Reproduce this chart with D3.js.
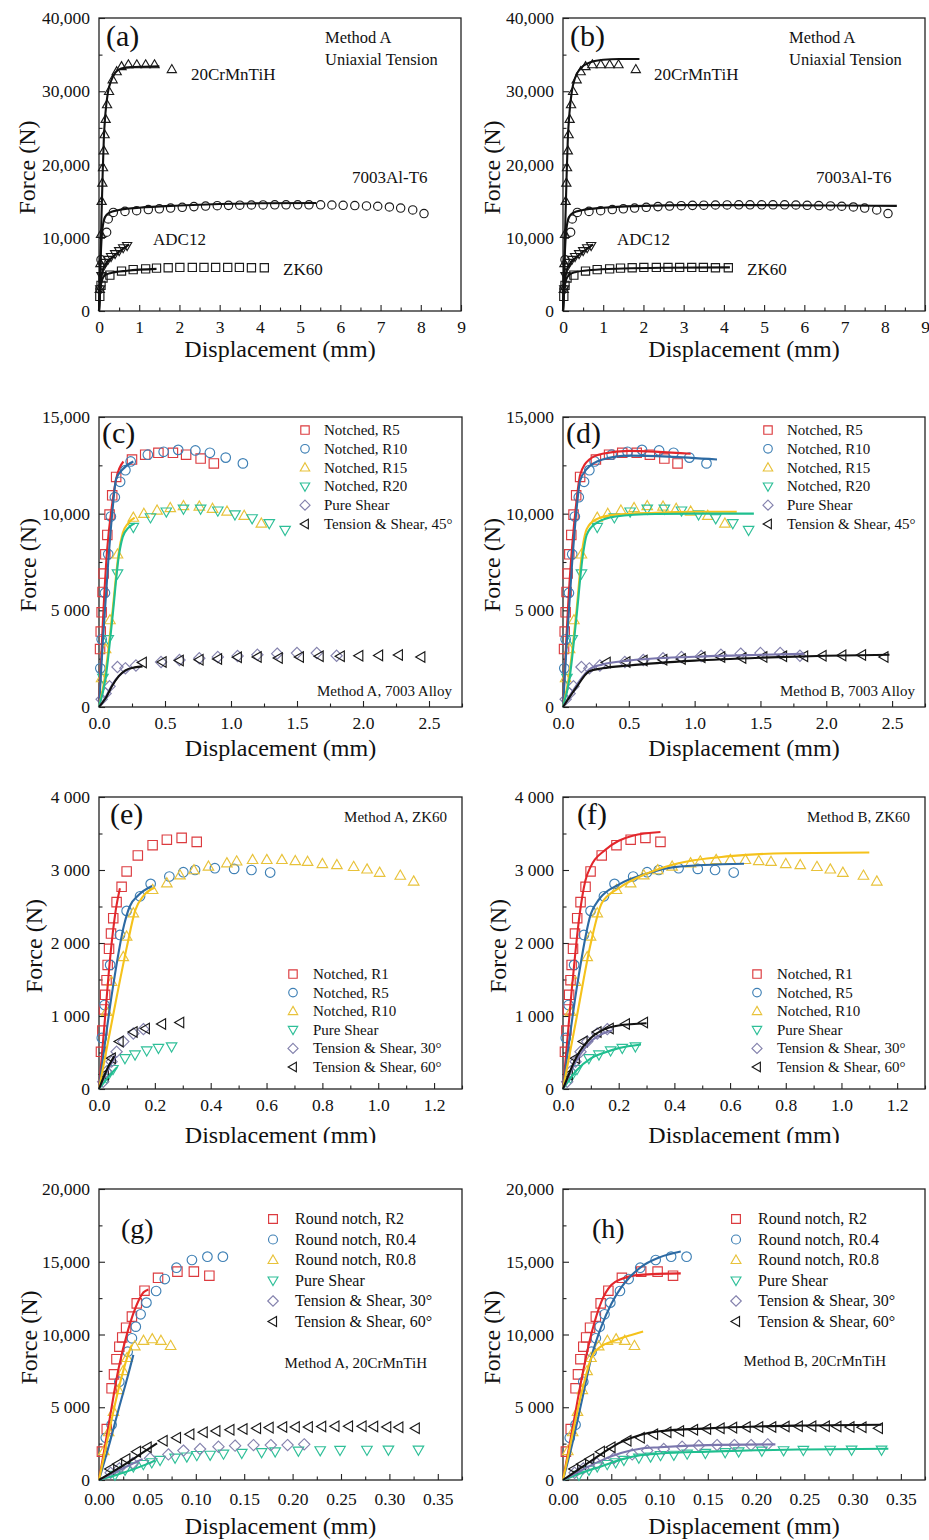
<!DOCTYPE html>
<html>
<head>
<meta charset="utf-8">
<script src="https://cdn.jsdelivr.net/npm/d3@7"></script>
<style>
  body { margin: 0; background: #fff; }
  svg { display: block; }
</style>
</head>
<body>
<svg id="fig" width="929" height="1540"></svg>
<script>
/* ---------- data: [displacement (mm), force (N)] ---------- */

// (a)/(b) uniaxial tension, test points
var ptsCrMnTi = [[0.02,3000],[0.035,6500],[0.05,10500],[0.066,15000],[0.083,17500],[0.1,19600],[0.12,21900],[0.14,24100],[0.165,26200],[0.2,28200],[0.25,30000],[0.34,31600],[0.44,32700],[0.56,33400],[0.73,33650],[0.94,33650],[1.16,33650],[1.38,33650],[1.81,33000]];
var ptsAl7003 = [[0.02,3000],[0.05,7000],[0.19,10750],[0.23,12560],[0.356,13450],[0.646,13600],[0.936,13700],[1.226,13850],[1.5,13950],[1.78,14050],[2.07,14150],[2.36,14250],[2.65,14330],[2.94,14380],[3.22,14420],[3.5,14450],[3.79,14470],[4.08,14480],[4.37,14490],[4.65,14490],[4.94,14490],[5.22,14490],[5.51,14500],[5.79,14470],[6.07,14430],[6.36,14400],[6.65,14350],[6.93,14300],[7.22,14200],[7.5,14050],[7.8,13800],[8.08,13300]];
var ptsADC12 = [[0.03,3000],[0.06,4800],[0.1,6000],[0.15,6600],[0.22,7000],[0.3,7400],[0.4,7800],[0.5,8200],[0.6,8600],[0.7,8900]];
var ptsZK60 = [[0.02,2000],[0.05,3500],[0.1,4500],[0.27,4900],[0.56,5450],[0.85,5650],[1.16,5750],[1.43,5850],[1.72,5900],[2.01,5950],[2.32,5950],[2.61,5950],[2.9,5950],[3.2,5950],[3.49,5950],[3.79,5900],[4.11,5900]];

var fitA_CrMnTi = [[0,0],[0.03,6000],[0.06,12500],[0.09,18500],[0.12,23500],[0.16,27000],[0.22,29800],[0.3,31400],[0.4,32500],[0.55,33100],[0.8,33300],[1.1,33350],[1.5,33400]];
var fitA_Al7003 = [[0,0],[0.03,5500],[0.06,9500],[0.1,11800],[0.15,12800],[0.25,13400],[0.5,13800],[1,14100],[2,14400],[3,14600],[4,14700],[5.4,14750]];
var fitA_ADC12 = [[0,0],[0.04,3500],[0.08,5300],[0.15,6300],[0.3,7200],[0.5,8100],[0.75,9100]];
var fitA_ZK60 = [[0,0],[0.03,2800],[0.08,4300],[0.15,4900],[0.3,5200],[0.7,5500],[1.43,5750]];

var fitB_CrMnTi = [[0,0],[0.03,6000],[0.06,12500],[0.09,18500],[0.12,23500],[0.16,27000],[0.22,30000],[0.3,31800],[0.45,33200],[0.7,34000],[1.0,34300],[1.4,34400],[1.9,34400]];
var fitB_Al7003 = [[0,0],[0.03,5500],[0.06,9500],[0.1,11800],[0.15,12800],[0.25,13400],[0.5,13800],[1,14100],[2,14350],[3,14450],[5,14450],[7,14400],[8.3,14350]];
var fitB_ADC12 = [[0,0],[0.04,3500],[0.08,5300],[0.15,6300],[0.3,7200],[0.5,8100],[0.75,9100]];
var fitB_ZK60 = [[0,0],[0.03,2800],[0.08,4300],[0.15,4900],[0.3,5300],[0.7,5600],[1.5,5800],[2.5,5900],[4.15,5950]];

// (c)/(d) 7003 alloy
var ptsC_R5 = [[0.008,3000],[0.013,3900],[0.02,4900],[0.027,5950],[0.035,6900],[0.048,7900],[0.063,8900],[0.08,9950],[0.1,10950],[0.13,11900],[0.25,12800],[0.35,13050],[0.45,13150],[0.56,13150],[0.66,13050],[0.77,12850],[0.87,12600]];
var ptsC_R10 = [[0.01,2000],[0.02,3500],[0.045,5900],[0.07,7900],[0.09,9850],[0.12,10850],[0.16,11650],[0.2,12250],[0.24,12700],[0.37,13050],[0.49,13200],[0.6,13300],[0.73,13270],[0.84,13150],[0.96,12900],[1.09,12600]];
var ptsC_R15 = [[0.02,1500],[0.05,3000],[0.083,4500],[0.14,7900],[0.26,9800],[0.34,10000],[0.44,10170],[0.54,10300],[0.64,10400],[0.76,10380],[0.86,10260],[0.97,10120],[1.1,9900],[1.23,9500]];
var ptsC_R20 = [[0.03,1500],[0.07,3500],[0.14,6900],[0.26,9300],[0.39,9800],[0.51,10100],[0.64,10250],[0.77,10250],[0.9,10150],[1.03,9950],[1.16,9750],[1.29,9500],[1.41,9150]];
var ptsC_PS = [[0.02,400],[0.05,700],[0.08,1070],[0.14,2070],[0.2,2000],[0.28,2150],[0.47,2330],[0.61,2430],[0.76,2520],[0.9,2590],[1.05,2640],[1.2,2700],[1.35,2760],[1.5,2790],[1.65,2790],[1.8,2650]];
var ptsC_TS45 = [[0.33,2300],[0.48,2330],[0.61,2410],[0.76,2450],[0.9,2480],[1.05,2570],[1.2,2590],[1.36,2530],[1.52,2590],[1.67,2620],[1.83,2620],[1.97,2650],[2.12,2670],[2.27,2690],[2.44,2590]];

var fitC_R5 = [[0,0],[0.03,4500],[0.06,8000],[0.1,10500],[0.13,11800],[0.185,12700]];
var fitC_R10 = [[0,0],[0.03,3500],[0.07,7500],[0.1,10000],[0.13,11800],[0.18,12300],[0.26,12700]];
var fitC_R15 = [[0,0],[0.05,1800],[0.1,4800],[0.15,8000],[0.18,9000],[0.22,9500],[0.27,9800]];
var fitC_R20 = [[0,0],[0.05,1500],[0.1,4500],[0.15,7800],[0.18,8800],[0.22,9250],[0.27,9500]];
var fitC_PS = [[0,0],[0.05,500],[0.1,1150],[0.15,1600],[0.22,1950]];
var fitC_TS45 = [[0,0],[0.05,450],[0.1,1100],[0.15,1600],[0.2,1900],[0.27,2050],[0.33,2100]];

var fitD_R5 = [[0,0],[0.05,6500],[0.1,10500],[0.13,12000],[0.2,12800],[0.3,13100],[0.5,13250],[0.97,13100]];
var fitD_R10 = [[0,0],[0.03,3500],[0.07,7500],[0.1,10000],[0.13,11700],[0.18,12300],[0.3,12800],[0.5,13000],[0.8,12950],[1.17,12800]];
var fitD_R15 = [[0,0],[0.05,1800],[0.1,4800],[0.15,8300],[0.18,9200],[0.25,9700],[0.4,9950],[0.7,10050],[1.0,10100],[1.32,10100]];
var fitD_R20 = [[0,0],[0.05,1500],[0.1,4500],[0.15,7800],[0.18,8900],[0.25,9500],[0.4,9850],[0.7,9980],[1.0,10000],[1.45,10000]];
var fitD_PS = [[0,0],[0.1,1100],[0.2,1950],[0.3,2200],[0.5,2400],[1.0,2600],[1.5,2700],[1.83,2750]];
var fitD_TS45 = [[0,0],[0.1,1000],[0.2,1850],[0.3,2000],[0.5,2150],[1.0,2400],[1.5,2550],[2.0,2650],[2.48,2700]];

// (e)/(f) ZK60
var ptsE_R1 = [[0.007,510],[0.012,800],[0.018,1090],[0.022,1290],[0.027,1490],[0.031,1700],[0.036,1920],[0.043,2130],[0.051,2340],[0.063,2560],[0.081,2770],[0.099,2980],[0.139,3200],[0.192,3340],[0.243,3415],[0.296,3440],[0.35,3385]];
var ptsE_R5 = [[0.01,700],[0.02,1150],[0.04,1700],[0.075,2110],[0.099,2440],[0.147,2640],[0.185,2810],[0.252,2910],[0.302,2970],[0.344,3000],[0.415,3025],[0.484,3015],[0.546,3000],[0.613,2965]];
var ptsE_R10 = [[0.027,1060],[0.045,1470],[0.087,1810],[0.099,2090],[0.123,2410],[0.192,2730],[0.243,2820],[0.29,2930],[0.34,3000],[0.392,3050],[0.458,3095],[0.493,3120],[0.55,3140],[0.601,3140],[0.655,3140],[0.703,3125],[0.747,3115],[0.8,3085],[0.852,3070],[0.912,3045],[0.96,3010],[1.005,2965],[1.079,2925],[1.127,2845]];
var ptsE_PS = [[0.027,150],[0.05,270],[0.093,420],[0.129,470],[0.171,525],[0.213,560],[0.26,580]];
var ptsE_TS30 = [[0.015,100],[0.027,240],[0.045,375],[0.063,510],[0.087,650],[0.123,760],[0.159,820]];
var ptsE_TS60 = [[0.02,200],[0.045,420],[0.073,650],[0.123,780],[0.167,830],[0.225,890],[0.29,910]];

var fitE_R1 = [[0,0],[0.02,900],[0.04,1800],[0.06,2450],[0.075,2750]];
var fitE_R5 = [[0,0],[0.05,1400],[0.09,2250],[0.11,2500],[0.14,2650],[0.19,2780]];
var fitE_R10 = [[0,0],[0.05,1000],[0.1,1950],[0.13,2450],[0.16,2650],[0.2,2760]];
var fitE_PS = [[0,0],[0.03,150],[0.065,300]];
var fitE_TS30 = [[0,0],[0.03,250],[0.06,450]];
var fitE_TS60 = [[0,0],[0.03,280],[0.055,450]];

var fitF_R1 = [[0,0],[0.03,1300],[0.06,2400],[0.08,2850],[0.1,3050],[0.15,3270],[0.2,3400],[0.25,3470],[0.35,3520]];
var fitF_R5 = [[0,0],[0.05,1400],[0.1,2400],[0.13,2600],[0.2,2800],[0.3,2950],[0.4,3040],[0.65,3085]];
var fitF_R10 = [[0,0],[0.05,1000],[0.1,2000],[0.14,2550],[0.2,2750],[0.3,2950],[0.4,3080],[0.6,3190],[0.8,3230],[1.1,3240]];
var fitF_PS = [[0,0],[0.05,260],[0.1,420],[0.15,500],[0.2,560],[0.28,610]];
var fitF_TS30 = [[0,0],[0.05,400],[0.1,650],[0.15,770],[0.175,800]];
var fitF_TS60 = [[0,0],[0.05,450],[0.1,700],[0.15,820],[0.2,870],[0.3,900]];

// (g)/(h) 20CrMnTiH
var ptsG_R2 = [[0.003,1950],[0.008,3500],[0.013,6300],[0.0155,7260],[0.018,8300],[0.021,9160],[0.024,9800],[0.028,10470],[0.034,11230],[0.039,12140],[0.047,13010],[0.061,13900],[0.081,14320],[0.098,14320],[0.114,14040]];
var ptsG_R04 = [[0.007,2900],[0.013,3800],[0.021,6750],[0.0296,8820],[0.034,9740],[0.038,10540],[0.043,11390],[0.049,12190],[0.059,12990],[0.068,13810],[0.08,14590],[0.096,15120],[0.112,15350],[0.128,15350]];
var ptsG_R08 = [[0.005,2000],[0.01,3300],[0.015,4700],[0.02,6200],[0.025,7500],[0.029,8400],[0.037,9200],[0.046,9580],[0.055,9690],[0.064,9580],[0.074,9230]];
var ptsG_PS = [[0.0165,340],[0.0269,690],[0.0355,920],[0.0458,1080],[0.0545,1200],[0.0631,1370],[0.0786,1520],[0.0907,1600],[0.101,1700],[0.1148,1720],[0.1286,1800],[0.1475,1850],[0.168,1900],[0.182,1950],[0.206,2000],[0.2285,2030],[0.249,2050],[0.2768,2060],[0.299,2070],[0.33,2070]];
var ptsG_TS30 = [[0.012,500],[0.021,800],[0.035,1150],[0.0527,1490],[0.0717,1760],[0.0872,2020],[0.1044,2130],[0.1234,2290],[0.1406,2360],[0.1596,2400],[0.1775,2400],[0.1948,2400],[0.212,2450]];
var ptsG_TS60 = [[0.0113,750],[0.0195,1100],[0.028,1450],[0.039,1950],[0.05,2250],[0.0665,2700],[0.0803,2910],[0.0941,3140],[0.1079,3280],[0.121,3370],[0.1355,3460],[0.149,3500],[0.163,3550],[0.176,3600],[0.19,3640],[0.203,3640],[0.2165,3640],[0.2303,3670],[0.244,3690],[0.258,3690],[0.272,3690],[0.284,3670],[0.2975,3640],[0.31,3620],[0.327,3550]];

var fitG_R2 = [[0,0],[0.01,3800],[0.02,7600],[0.03,10300],[0.04,12200],[0.046,12900],[0.051,13100]];
var fitG_R04 = [[0,0],[0.01,2300],[0.02,4800],[0.03,7200],[0.0355,8600]];
var fitG_R08 = [[0,0],[0.01,3200],[0.02,6200],[0.03,8600],[0.034,9300]];
var fitG_PS = [[0,0],[0.02,400],[0.04,850],[0.058,1330]];
var fitG_TS30 = [[0,0],[0.02,650],[0.045,1450]];
var fitG_TS60 = [[0,0],[0.02,800],[0.04,1650],[0.06,2520]];

var fitH_R2 = [[0,0],[0.01,3600],[0.02,7200],[0.03,10200],[0.04,12300],[0.05,13400],[0.06,13800],[0.08,14100],[0.122,14200]];
var fitH_R04 = [[0,0],[0.01,2600],[0.02,5600],[0.03,8600],[0.04,10600],[0.05,12100],[0.06,13200],[0.07,14000],[0.08,14600],[0.1,15300],[0.122,15700]];
var fitH_R08 = [[0,0],[0.01,3200],[0.02,6200],[0.03,8500],[0.04,9200],[0.05,9500],[0.06,9750],[0.07,9950],[0.083,10200]];
var fitH_PS = [[0,0],[0.02,500],[0.04,950],[0.06,1400],[0.08,1700],[0.1,1820],[0.15,1950],[0.2,2040],[0.25,2100],[0.337,2150]];
var fitH_TS30 = [[0,0],[0.02,700],[0.04,1350],[0.06,1850],[0.08,2150],[0.1,2250],[0.15,2400],[0.22,2450]];
var fitH_TS60 = [[0,0],[0.02,900],[0.04,1800],[0.06,2600],[0.08,3100],[0.1,3350],[0.15,3550],[0.2,3680],[0.25,3750],[0.33,3800]];

// tick values
var xTicksA = [0,1,2,3,4,5,6,7,8,9];
var yTicksA = [0,10000,20000,30000,40000];
var xTicksC = [0,0.5,1,1.5,2,2.5];
var yTicksC = [0,5000,10000,15000];
var xTicksE = [0,0.2,0.4,0.6,0.8,1.0,1.2];
var yTicksE = [0,1000,2000,3000,4000];
var xTicksG = [0,0.05,0.1,0.15,0.2,0.25,0.3,0.35];
var yTicksG = [0,5000,10000,15000,20000];

// legend labels
var legend7003 = ["Notched, R5","Notched, R10","Notched, R15","Notched, R20","Pure Shear","Tension & Shear, 45°"];
var legendZK60 = ["Notched, R1","Notched, R5","Notched, R10","Pure Shear","Tension & Shear, 30°","Tension & Shear, 60°"];
var legendCrMnTi = ["Round notch, R2","Round notch, R0.4","Round notch, R0.8","Pure Shear","Tension & Shear, 30°","Tension & Shear, 60°"];

/* ---------- styling ---------- */
var FONT = '"Liberation Serif", "Times New Roman", serif';
var RED = {line:'#e3262b', mk:'#dc3b3f'};
var BLUE = {line:'#2d6aa3', mk:'#3f80b5'};
var YEL = {line:'#f5c21b', mk:'#e8c23a'};
var GRN = {line:'#1fbf8f', mk:'#2ebf98'};
var LAV = {line:'#7a76ad', mk:'#8482ad'};
var BLK = {line:'#111', mk:'#1a1a1a'};
var SYMS = ['square','circle','up','down','diamond','left'];
var COLS = [RED, BLUE, YEL, GRN, LAV, BLK];

var svg = d3.select('#fig');

function sym(type, k) {
  switch (type) {
    case 'square': return 'M'+(-k)+','+(-k)+'H'+k+'V'+k+'H'+(-k)+'Z';
    case 'circle': var r = k*1.02; return 'M'+r+',0A'+r+','+r+' 0 1,1 '+(-r)+',0A'+r+','+r+' 0 1,1 '+r+',0Z';
    case 'up': return 'M0,'+(-1.15*k)+'L'+(1.12*k)+','+(0.8*k)+'L'+(-1.12*k)+','+(0.8*k)+'Z';
    case 'down': return 'M0,'+(1.15*k)+'L'+(1.12*k)+','+(-0.8*k)+'L'+(-1.12*k)+','+(-0.8*k)+'Z';
    case 'diamond': return 'M0,'+(-1.2*k)+'L'+(1.2*k)+',0L0,'+(1.2*k)+'L'+(-1.2*k)+',0Z';
    case 'left': return 'M'+(-1.15*k)+',0L'+(0.8*k)+','+(-1.12*k)+'L'+(0.8*k)+','+(1.12*k)+'Z';
  }
}

function yFmt(v) {
  if (v === 0) return '0';
  var s = d3.format(',')(v);
  return v < 10000 ? s.replace(',', ' ') : s;
}

function txt(t, x, y, size, anchor) {
  svg.append('text').attr('x', x).attr('y', y)
    .attr('font-family', FONT).attr('font-size', size)
    .attr('text-anchor', anchor || 'start').attr('fill', '#111')
    .text(t);
}

function drawPanel(p) {
  var x = d3.scaleLinear().domain([0, p.xMax]).range([p.left, p.left + p.w]);
  var y = d3.scaleLinear().domain([0, p.yMax]).range([p.top + p.h, p.top]);
  var bottom = p.top + p.h;
  var g = svg.append('g');

  var near = function(arr, v) { return arr.some(function(t){ return Math.abs(t - v) < 1e-9; }); };
  var xMinor = d3.range(0, p.xMax + 1e-9, p.xMinor).filter(function(v){ return !near(p.xTicks, v); });
  var yMinor = d3.range(0, p.yMax + 1e-9, p.yMinor).filter(function(v){ return !near(p.yTicks, v); });

  g.append('g').attr('transform', 'translate(0,' + bottom + ')')
    .call(d3.axisBottom(x).tickValues(xMinor).tickSize(-3.5).tickFormat(''));
  g.append('g').attr('transform', 'translate(0,' + bottom + ')')
    .call(d3.axisBottom(x).tickValues(p.xTicks).tickSize(-6).tickPadding(p.xPad || 10).tickFormat(p.xFmt));
  g.append('g').attr('transform', 'translate(' + p.left + ',0)')
    .call(d3.axisLeft(y).tickValues(yMinor).tickSize(-3.5).tickFormat(''));
  g.append('g').attr('transform', 'translate(' + p.left + ',0)')
    .call(d3.axisLeft(y).tickValues(p.yTicks).tickSize(-6).tickPadding(9).tickFormat(yFmt));

  g.selectAll('.domain').remove();
  g.selectAll('.tick line').attr('stroke', '#222').attr('stroke-width', 1.1);
  g.selectAll('.tick text').attr('font-family', FONT).attr('font-size', 17.5).attr('fill', '#111');

  g.append('rect').attr('x', p.left).attr('y', p.top).attr('width', p.w).attr('height', p.h)
    .attr('fill', 'none').attr('stroke', '#222').attr('stroke-width', 1.3);

  // test points
  p.series.forEach(function(s) {
    if (!s.pts) return;
    g.append('g').selectAll('path').data(s.pts).join('path')
      .attr('d', sym(s.sym, p.mr))
      .attr('transform', function(d){ return 'translate(' + x(d[0]) + ',' + y(d[1]) + ')'; })
      .attr('fill', 'none').attr('stroke', s.col.mk).attr('stroke-width', 1.15);
  });

  // fitted curves
  var line = d3.line().x(function(d){ return x(d[0]); }).y(function(d){ return y(d[1]); }).curve(d3.curveMonotoneX);
  p.series.forEach(function(s) {
    if (!s.fit) return;
    g.append('path').datum(s.fit).attr('d', line)
      .attr('fill', 'none').attr('stroke', s.col.line).attr('stroke-width', 2.1)
      .attr('stroke-linejoin', 'round');
  });

  // axis titles
  var xt = g.append('text').attr('x', p.left + p.w / 2).attr('y', bottom + p.xtOff)
    .attr('text-anchor', 'middle').attr('font-family', FONT).attr('font-size', 24).attr('fill', '#111')
    .text('Displacement (mm)');
  if (p.clipTitle) {
    svg.append('clipPath').attr('id', 'clip' + p.id).append('rect')
      .attr('x', 0).attr('y', 0).attr('width', 929).attr('height', p.clipTitle);
    xt.attr('clip-path', 'url(#clip' + p.id + ')');
  }
  g.append('text').attr('transform', 'translate(' + p.ytX + ',' + (p.top + p.h / 2 + 3) + ') rotate(-90)')
    .attr('text-anchor', 'middle').attr('font-family', FONT).attr('font-size', 24).attr('fill', '#111')
    .text('Force (N)');

  // legend
  if (p.legend) {
    var L = p.legend;
    L.labels.forEach(function(lab, i) {
      var cy = L.y0 + i * L.dy;
      g.append('path').attr('d', sym(SYMS[i], L.mr))
        .attr('transform', 'translate(' + L.mx + ',' + cy + ')')
        .attr('fill', 'none').attr('stroke', COLS[i].mk).attr('stroke-width', 1.15);
      g.append('text').attr('x', L.tx).attr('y', cy + L.fs * 0.33)
        .attr('font-family', FONT).attr('font-size', L.fs).attr('fill', '#111').text(lab);
    });
  }
}

function six(pts, fits) {
  return pts.map(function(pp, i){ return {pts: pp, fit: fits[i], sym: SYMS[i], col: COLS[i]}; });
}
function blackSeries(pts, fits, syms) {
  return pts.map(function(pp, i){ return {pts: pp, fit: fits[i], sym: syms[i], col: BLK}; });
}

var f0 = d3.format('d'), f1 = d3.format('.1f'), f2 = d3.format('.2f');
var abSyms = ['up','circle','down','square'];

var panels = [
  {id:'a', left:99, top:18, w:362, h:293, xMax:9, yMax:40000, xTicks:xTicksA, xMinor:0.5, yTicks:yTicksA, yMinor:5000, xFmt:f0, mr:4.1, xtOff:46, ytX:35,
   series: blackSeries([ptsCrMnTi, ptsAl7003, ptsADC12, ptsZK60], [fitA_CrMnTi, fitA_Al7003, fitA_ADC12, fitA_ZK60], abSyms)},
  {id:'b', left:563, top:18, w:362, h:293, xMax:9, yMax:40000, xTicks:xTicksA, xMinor:0.5, yTicks:yTicksA, yMinor:5000, xFmt:f0, mr:4.1, xtOff:46, ytX:500,
   series: blackSeries([ptsCrMnTi, ptsAl7003, ptsADC12, ptsZK60], [fitB_CrMnTi, fitB_Al7003, fitB_ADC12, fitB_ZK60], abSyms)},
  {id:'c', left:99, top:417, w:363, h:290, xMax:2.75, yMax:15000, xTicks:xTicksC, xMinor:0.25, yTicks:yTicksC, yMinor:2500, xFmt:f1, mr:4.7, xtOff:49, ytX:36,
   series: six([ptsC_R5, ptsC_R10, ptsC_R15, ptsC_R20, ptsC_PS, ptsC_TS45], [fitC_R5, fitC_R10, fitC_R15, fitC_R20, fitC_PS, fitC_TS45]),
   legend:{labels:legend7003, mx:305, tx:324, y0:430, dy:18.8, fs:15, mr:4.2}},
  {id:'d', left:563, top:417, w:362, h:290, xMax:2.75, yMax:15000, xTicks:xTicksC, xMinor:0.25, yTicks:yTicksC, yMinor:2500, xFmt:f1, mr:4.7, xtOff:49, ytX:500,
   series: six([ptsC_R5, ptsC_R10, ptsC_R15, ptsC_R20, ptsC_PS, ptsC_TS45], [fitD_R5, fitD_R10, fitD_R15, fitD_R20, fitD_PS, fitD_TS45]),
   legend:{labels:legend7003, mx:768, tx:787, y0:430, dy:18.8, fs:15, mr:4.2}},
  {id:'e', left:99, top:797, w:363, h:292, xMax:1.3, yMax:4000, xTicks:xTicksE, xMinor:0.1, yTicks:yTicksE, yMinor:500, xFmt:f1, mr:4.7, xtOff:54, ytX:42, clipTitle:1143,
   series: six([ptsE_R1, ptsE_R5, ptsE_R10, ptsE_PS, ptsE_TS30, ptsE_TS60], [fitE_R1, fitE_R5, fitE_R10, fitE_PS, fitE_TS30, fitE_TS60]),
   legend:{labels:legendZK60, mx:293, tx:313, y0:974, dy:18.6, fs:15, mr:4.2}},
  {id:'f', left:563, top:797, w:362, h:292, xMax:1.3, yMax:4000, xTicks:xTicksE, xMinor:0.1, yTicks:yTicksE, yMinor:500, xFmt:f1, mr:4.7, xtOff:54, ytX:506, clipTitle:1143,
   series: six([ptsE_R1, ptsE_R5, ptsE_R10, ptsE_PS, ptsE_TS30, ptsE_TS60], [fitF_R1, fitF_R5, fitF_R10, fitF_PS, fitF_TS30, fitF_TS60]),
   legend:{labels:legendZK60, mx:757, tx:777, y0:974, dy:18.6, fs:15, mr:4.2}},
  {id:'g', left:99, top:1189, w:363, h:291, xMax:0.375, yMax:20000, xTicks:xTicksG, xMinor:0.025, yTicks:yTicksG, yMinor:2500, xFmt:f2, xPad:12.5, mr:4.7, xtOff:54, ytX:37,
   series: six([ptsG_R2, ptsG_R04, ptsG_R08, ptsG_PS, ptsG_TS30, ptsG_TS60], [fitG_R2, fitG_R04, fitG_R08, fitG_PS, fitG_TS30, fitG_TS60]),
   legend:{labels:legendCrMnTi, mx:273, tx:295, y0:1219, dy:20.5, fs:16, mr:4.4}},
  {id:'h', left:563, top:1189, w:362, h:291, xMax:0.375, yMax:20000, xTicks:xTicksG, xMinor:0.025, yTicks:yTicksG, yMinor:2500, xFmt:f2, xPad:12.5, mr:4.7, xtOff:54, ytX:500,
   series: six([ptsG_R2, ptsG_R04, ptsG_R08, ptsG_PS, ptsG_TS30, ptsG_TS60], [fitH_R2, fitH_R04, fitH_R08, fitH_PS, fitH_TS30, fitH_TS60]),
   legend:{labels:legendCrMnTi, mx:736, tx:758, y0:1219, dy:20.5, fs:16, mr:4.4}}
];

panels.forEach(drawPanel);

// panel letters and notes
txt('(a)', 106, 46, 30); txt('(b)', 570, 46, 30);
txt('(c)', 102, 443, 30); txt('(d)', 566, 443, 30);
txt('(e)', 110, 824, 30); txt('(f)', 577, 824, 30);
txt('(g)', 121, 1238, 28); txt('(h)', 592, 1238, 28);

txt('Method A', 325, 43, 16.5); txt('Uniaxial Tension', 325, 65, 16.5);
txt('Method A', 789, 43, 16.5); txt('Uniaxial Tension', 789, 65, 16.5);
txt('20CrMnTiH', 191, 80, 17); txt('7003Al-T6', 352, 183, 17); txt('ADC12', 153, 245, 17); txt('ZK60', 283, 275, 17);
txt('20CrMnTiH', 654, 80, 17); txt('7003Al-T6', 816, 183, 17); txt('ADC12', 617, 245, 17); txt('ZK60', 747, 275, 17);

txt('Method A, 7003 Alloy', 452, 696, 15, 'end');
txt('Method B, 7003 Alloy', 915, 696, 15, 'end');
txt('Method A, ZK60', 447, 822, 15, 'end');
txt('Method B, ZK60', 910, 822, 15, 'end');
txt('Method A, 20CrMnTiH', 427, 1368, 15, 'end');
txt('Method B, 20CrMnTiH', 886, 1366, 15, 'end');
</script>
</body>
</html>
